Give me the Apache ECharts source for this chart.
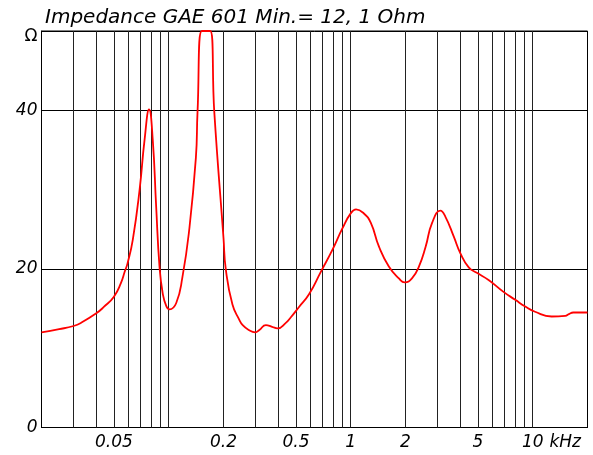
<!DOCTYPE html>
<html>
<head>
<meta charset="utf-8">
<script src="https://cdn.jsdelivr.net/npm/echarts@6/dist/echarts.min.js"></script>
<style>html,body{margin:0;padding:0;background:#fff}#c{width:593px;height:455px}</style>
</head>
<body>
<div id="c"></div>
<script>
// frequency in kHz
var freq = [0.02, 0.025, 0.03, 0.033, 0.04, 0.044, 0.05, 0.0546, 0.0574, 0.0594, 0.0635, 0.0692, 0.0737, 0.078, 0.0817, 0.0853, 0.089, 0.0927, 0.097, 0.101, 0.11, 0.119, 0.129, 0.141, 0.144, 0.152, 0.169, 0.178, 0.2, 0.206, 0.224, 0.244, 0.255, 0.275, 0.299, 0.315, 0.342, 0.37, 0.396, 0.44, 0.469, 0.52, 0.59, 0.684, 0.793, 0.9, 1.0, 1.07, 1.18, 1.29, 1.43, 1.62, 1.84, 1.98, 2.17, 2.37, 2.58, 2.8, 3.11, 3.31, 3.68, 4.0, 4.45, 4.93, 5.72, 6.91, 8.02, 9.1, 10.3, 12.7, 15.1, 15.8, 16.7, 20];
// impedance in Ohm
var imp = [12.0, 12.4, 12.8, 13.2, 14.4, 15.2, 16.5, 18.2, 19.7, 20.7, 23.7, 30.0, 36.3, 40.1, 36.3, 27.9, 20.3, 16.9, 15.3, 14.9, 15.7, 19.0, 24.5, 34.0, 39.8, 50, 50, 39.8, 23.9, 19.9, 15.5, 13.6, 12.9, 12.3, 12.0, 12.3, 12.9, 12.7, 12.5, 13.2, 13.9, 15.2, 16.8, 19.6, 22.4, 25.1, 27.0, 27.5, 27.0, 25.8, 22.8, 20.3, 18.8, 18.3, 18.8, 20.3, 22.8, 25.8, 27.35, 26.6, 24.1, 22.0, 20.2, 19.5, 18.6, 17.1, 16.1, 15.25, 14.6, 14.0, 14.08, 14.3, 14.5, 14.5];
var gridFreqs = [0.03, 0.04, 0.05, 0.06, 0.07, 0.08, 0.09, 0.1, 0.2, 0.3, 0.4, 0.5, 0.6, 0.7, 0.8, 0.9, 1, 2, 3, 4, 5, 6, 7, 8, 9, 10];
var xLabels = [0.05, 0.2, 0.5, 1, 2, 5, 10];
var titleText = 'Impedance GAE 601 Min.= 12, 1 Ohm';

var FONT = 'DejaVu Sans';
var chart = echarts.init(document.getElementById('c'), null, {renderer: 'canvas'});
var data = freq.map(function (f, i) { return [f, imp[i]]; });
chart.setOption({
  animation: false,
  title: {
    text: titleText, left: 40, top: 3,
    textStyle: {fontFamily: FONT, fontStyle: 'italic', fontWeight: 'normal', fontSize: 20, color: '#000'}
  },
  grid: {left: 41.5, right: 5.5, top: 31, bottom: 27.5, show: true, borderColor: '#000', borderWidth: 1, containLabel: false},
  xAxis: {
    type: 'log', logBase: 10, min: 0.02, max: 20,
    name: 'kHz', nameLocation: 'end', nameGap: -46,
    nameTextStyle: {fontFamily: FONT, fontStyle: 'italic', fontSize: 17, color: '#000', align: 'left', verticalAlign: 'top', padding: [7, 0, 0, 0]},
    axisLine: {show: true, lineStyle: {color: '#000', width: 1}},
    axisTick: {show: false},
    splitLine: {show: false},
    minorSplitLine: {show: false},
    axisLabel: {
      customValues: xLabels,
      fontFamily: FONT, fontStyle: 'italic', fontSize: 17, color: '#000', margin: 7,
      formatter: function (v) { return String(v); }
    }
  },
  yAxis: {
    type: 'value', min: 0, max: 50, interval: 20,
    axisLine: {show: true, lineStyle: {color: '#000', width: 1}},
    axisTick: {show: false},
    splitLine: {show: true, lineStyle: {color: '#000', width: 1}},
    axisLabel: {
      fontFamily: FONT, fontStyle: 'italic', fontSize: 17, color: '#000', margin: 4,
      formatter: function (v) { return v === 50 ? '{o|Ω}' : String(v); },
      rich: {o: {fontFamily: FONT, fontStyle: 'normal', fontSize: 17, color: '#000', padding: [11, 0, 0, 0]}}
    }
  },
  series: [{
    type: 'line', data: data, showSymbol: false, symbol: 'none',
    smooth: 0.5, clip: true, z: 3,
    lineStyle: {color: '#ff0000', width: 1.8},
    markLine: {
      silent: true, symbol: 'none', z: 1, animation: false,
      lineStyle: {color: '#222', width: 1, type: 'solid'},
      label: {show: false},
      data: gridFreqs.map(function (f) { return {xAxis: f}; })
    }
  }]
});
</script>
</body>
</html>
